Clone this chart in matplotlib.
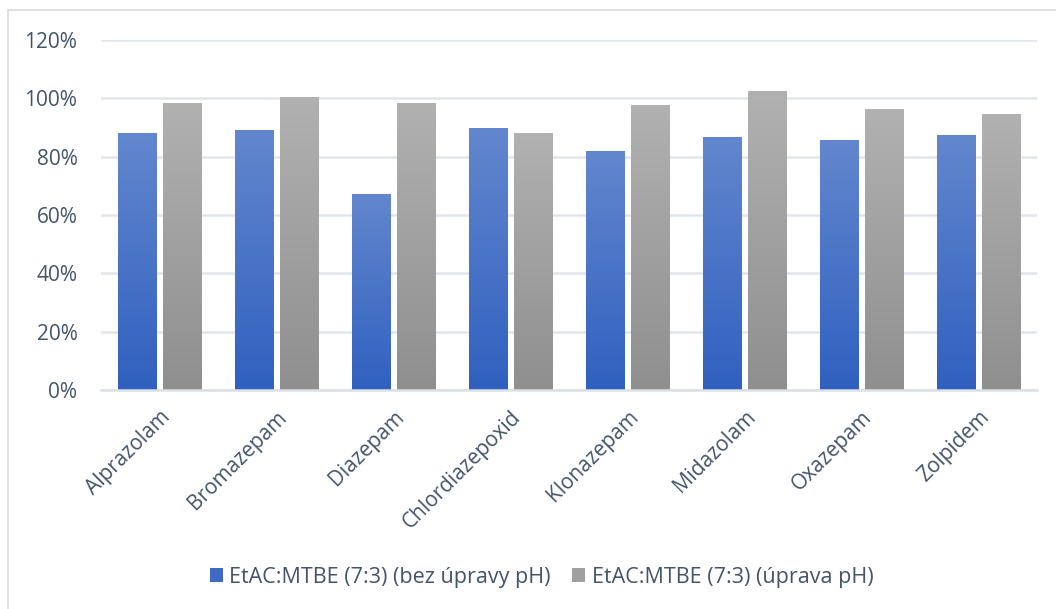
import matplotlib
matplotlib.use("Agg")
import matplotlib.pyplot as plt
import numpy as np
from matplotlib.colors import LinearSegmentedColormap
from matplotlib.patches import Rectangle, Patch

# recovery of each compound, two extraction variants
compounds = ["Alprazolam", "Bromazepam", "Diazepam", "Chlordiazepoxid",
             "Klonazepam", "Midazolam", "Oxazepam", "Zolpidem"]
bez_upravy = [0.881, 0.891, 0.669, 0.898, 0.819, 0.867, 0.857, 0.874]
uprava = [0.984, 1.004, 0.984, 0.878, 0.977, 1.022, 0.963, 0.943]
labels = ["EtAC:MTBE (7:3) (bez úpravy pH)", "EtAC:MTBE (7:3) (úprava pH)"]
yticks = [0, 0.2, 0.4, 0.6, 0.8, 1.0, 1.2]

txt = "#44546A"
plt.rcParams['font.family'] = ['Open Sans', 'DejaVu Sans']

fig = plt.figure(figsize=(10.56, 6.09), dpi=100)
ax = fig.add_axes([101 / 1056, 1 - 390 / 609, 936 / 1056, 350 / 609])

blue_cm = LinearSegmentedColormap.from_list("b", ["#3060BF", "#6387CE"])
gray_cm = LinearSegmentedColormap.from_list("g", ["#8F8F8F", "#B1B1B1"])
grad = np.linspace(0, 1, 256).reshape(-1, 1)

x = np.arange(len(compounds))
w = 0.325
gap = 0.06
for vals, off, cm in [(bez_upravy, -(w + gap) / 2, blue_cm), (uprava, (w + gap) / 2, gray_cm)]:
    bars = ax.bar(x + off, vals, w, color="none", zorder=3)
    for b in bars:
        x0, y0 = b.get_x(), b.get_y()
        ax.imshow(grad, cmap=cm, origin="lower", aspect="auto", zorder=3,
                  extent=(x0, x0 + b.get_width(), y0, y0 + b.get_height()),
                  interpolation="bilinear")

ax.set_xlim(-0.5, len(compounds) - 0.5)
ax.set_ylim(0, 1.2)
ax.set_yticks(yticks)
ax.set_yticklabels([f"{int(round(t * 100))}%" for t in yticks])
ax.yaxis.grid(True, color="#E1E5EB", lw=1.8, zorder=0)
ax.set_axisbelow(True)
for s in ["top", "right", "left"]:
    ax.spines[s].set_visible(False)
ax.spines["bottom"].set_color("#DCE0E6")
ax.spines["bottom"].set_linewidth(1.8)
ax.spines["bottom"].set_zorder(4)

ax.set_xticks(x)
ax.set_xticklabels(compounds, rotation=45, ha="right", rotation_mode="anchor")
ax.tick_params(axis="both", length=0, labelsize=15, colors=txt)
ax.tick_params(axis="y", pad=17)
ax.tick_params(axis="x", pad=12)

handles = [Patch(facecolor="#3E69C4", edgecolor="none"),
           Patch(facecolor="#A0A0A0", edgecolor="none")]
fig.legend(handles, labels, loc="center", bbox_to_anchor=(0.513, 0.052), ncol=2,
           frameon=False, fontsize=15.5, labelcolor=txt, handlelength=0.6,
           handleheight=0.6, handletextpad=0.3, columnspacing=1.0)

fig.patches.append(Rectangle((8 / 1056, -0.1), 1.2, 1 - 10 / 609 + 0.1,
                             transform=fig.transFigure, fill=False,
                             edgecolor="#D9D9D9", lw=1.2))

fig.savefig("out.png", dpi=100)
